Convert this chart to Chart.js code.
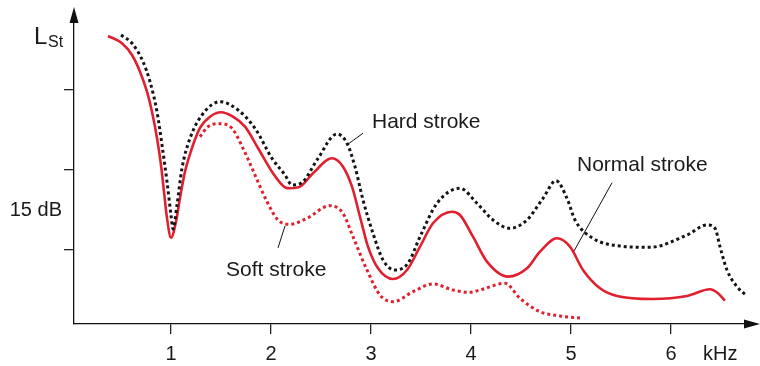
<!DOCTYPE html>
<html><head><meta charset="utf-8">
<script src="https://cdn.jsdelivr.net/npm/chart.js@4/dist/chart.umd.min.js"></script>
<style>html,body{margin:0;padding:0;background:#fff;}#wrap{width:760px;height:366px;position:relative;}</style>
</head><body><div id="wrap"><canvas id="c" width="760" height="366"></canvas></div>
<script>
// Frequency (kHz) / level (dB, arbitrary reference)
const normalX = [0.37,0.51,0.61,0.69,0.76,0.81,0.86,0.90,0.93,0.96,1.00,1.05,1.09,1.14,1.21,1.29,1.39,1.50,1.62,1.74,1.87,2.01,2.14,2.19,2.29,2.42,2.61,2.72,2.81,2.89,2.97,3.07,3.22,3.36,3.49,3.62,3.81,3.89,4.02,4.16,4.37,4.56,4.69,4.86,4.99,5.12,5.29,5.46,5.82,6.16,6.39,6.47,6.54];
const normalY = [55.13,53.76,51.56,48.43,44.68,40.93,36.0,30.94,25.93,21.0,17.31,20.31,24.75,29.68,34.13,37.88,39.99,40.82,39.99,38.12,34.13,29.68,26.76,26.57,26.87,29.38,32.19,30.62,26.87,21.24,15.62,11.57,9.56,11.25,15.62,20.01,22.18,21.56,17.49,12.81,10.0,11.57,14.68,17.19,15.62,11.25,7.82,6.38,5.81,6.38,7.63,6.88,5.49];
const hardX = [0.50,0.61,0.72,0.79,0.86,0.91,0.96,1.00,1.02,1.06,1.11,1.19,1.31,1.49,1.67,1.84,2.01,2.14,2.21,2.32,2.46,2.66,2.76,2.84,2.92,3.02,3.12,3.24,3.37,3.49,3.66,3.89,4.06,4.22,4.39,4.56,4.72,4.85,4.96,5.04,5.22,5.49,5.79,6.16,6.36,6.44,6.49,6.56,6.66,6.76];
const hardY = [55.31,53.76,50.31,46.56,40.93,34.69,27.81,21.56,18.94,23.44,30.32,35.94,40.31,42.81,41.25,37.82,32.19,29.06,27.19,27.81,31.88,36.75,35.01,30.62,24.38,18.13,13.13,11.25,12.51,17.49,23.76,26.57,23.76,20.63,19.07,20.63,24.69,27.99,24.69,20.63,17.19,15.75,15.51,17.81,19.69,19.07,15.62,11.25,8.12,6.38];
const softX = [1.29,1.37,1.49,1.61,1.72,1.84,1.96,2.07,2.19,2.36,2.59,2.72,2.82,2.96,3.09,3.22,3.42,3.62,3.82,3.99,4.09,4.34,4.49,4.69,4.89,5.11];
const softY = [36.24,38.12,38.68,37.82,34.07,29.06,24.06,20.63,19.82,20.94,23.31,21.88,17.49,11.25,6.56,5.31,7.18,8.63,7.5,7.07,7.5,8.76,5.94,3.43,2.63,2.19];
const xTicks = [1,2,3,4,5,6];
const yTicks = [15,30,45];
const xUnit = 'kHz';
const yScaleLabel = '15 dB';

const pts = (xs, ys) => xs.map((x, i) => ({x, y: ys[i]}));
const RED = '#e0202e', BLACK = '#141414', FONT = '"Liberation Sans", Arial, sans-serif';

const overlay = {
  id: 'overlay',
  afterDraw(chart) {
    const ctx = chart.ctx, xs = chart.scales.x, ys = chart.scales.y, a = chart.chartArea;
    const px = v => xs.getPixelForValue(v), py = v => ys.getPixelForValue(v);
    ctx.save();
    ctx.fillStyle = '#111'; ctx.strokeStyle = '#111';
    // arrowheads
    ctx.beginPath(); ctx.moveTo(a.left, 7); ctx.lineTo(a.left - 4.5, 23); ctx.lineTo(a.left + 4.5, 23); ctx.closePath(); ctx.fill();
    ctx.beginPath(); ctx.moveTo(a.left, 23); ctx.lineTo(a.left, a.top); ctx.lineWidth = 1.3; ctx.stroke();
    ctx.beginPath(); ctx.moveTo(760, a.bottom); ctx.lineTo(744, a.bottom - 4.5); ctx.lineTo(744, a.bottom + 4.5); ctx.closePath(); ctx.fill();
    ctx.beginPath(); ctx.moveTo(a.right, a.bottom); ctx.lineTo(746, a.bottom); ctx.stroke();
    // texts
    ctx.fillStyle = '#1a1a1a'; ctx.textBaseline = 'middle';
    ctx.font = '20px ' + FONT;
    ctx.textAlign = 'left';
    ctx.fillText(xUnit, 703, 354);
    ctx.textAlign = 'right';
    ctx.fillText(yScaleLabel, 62, py(22.5));
    ctx.textAlign = 'left';
    ctx.font = '24px ' + FONT; ctx.textBaseline = 'alphabetic';
    ctx.fillText('L', 34, 44);
    ctx.font = '16px ' + FONT;
    ctx.fillText('St', 48, 47);
    ctx.font = '21px ' + FONT; ctx.textBaseline = 'middle';
    ctx.fillText('Hard stroke', px(3.01), py(39.0));
    ctx.fillText('Soft stroke', px(1.55), py(11.25));
    ctx.fillText('Normal stroke', px(5.06), py(30.9));
    // leader lines
    ctx.lineWidth = 1; ctx.strokeStyle = '#111';
    const seg = (x1,y1,x2,y2) => { ctx.beginPath(); ctx.moveTo(px(x1), py(y1)); ctx.lineTo(px(x2), py(y2)); ctx.stroke(); };
    seg(2.76,34.7,2.92,36.9);
    seg(2.14,19.5,2.07,15.4);
    seg(5.41,27.6,5.03,14.8);
    ctx.restore();
  }
};

const common = { pointRadius: 0, cubicInterpolationMode: 'monotone', fill: false };
new Chart(document.getElementById('c'), {
  type: 'line',
  data: { datasets: [
    Object.assign({ label: 'Hard stroke', data: pts(hardX, hardY), borderColor: BLACK, borderWidth: 3, borderDash: [3,3], borderCapStyle: 'butt' }, common),
    Object.assign({ label: 'Soft stroke', data: pts(softX, softY), borderColor: RED, borderWidth: 3, borderDash: [3,3], borderCapStyle: 'butt' }, common),
    Object.assign({ label: 'Normal stroke', data: pts(normalX, normalY), borderColor: RED, borderWidth: 2.6 }, common)
  ]},
  options: {
    responsive: false, animation: false, devicePixelRatio: 1,
    layout: { padding: { top: 20, right: 10, left: 0, bottom: 0 } },
    plugins: { legend: { display: false }, tooltip: { enabled: false } },
    scales: {
      x: { type: 'linear', min: 0.03, max: 6.79,
        afterBuildTicks: s => { s.ticks = xTicks.map(v => ({value: v})); },
        afterFit: s => { s.height = 42; },
        grid: { drawOnChartArea: false, drawTicks: true, tickLength: 10, color: '#222', lineWidth: 1.3 },
        border: { display: true, color: '#111', width: 1.3 },
        ticks: { color: '#1a1a1a', font: { family: FONT, size: 20 }, padding: 8, maxRotation: 0, autoSkip: false, callback: v => String(v) } },
      y: { type: 'linear', min: 1.125, max: 58.125,
        afterBuildTicks: s => { s.ticks = yTicks.map(v => ({value: v})); },
        afterFit: s => { s.width = 74; },
        grid: { drawOnChartArea: false, drawTicks: true, tickLength: 10, color: '#222', lineWidth: 1.3 },
        border: { display: true, color: '#111', width: 1.3 },
        ticks: { display: false } }
    }
  },
  plugins: [overlay]
});
</script></body></html>
